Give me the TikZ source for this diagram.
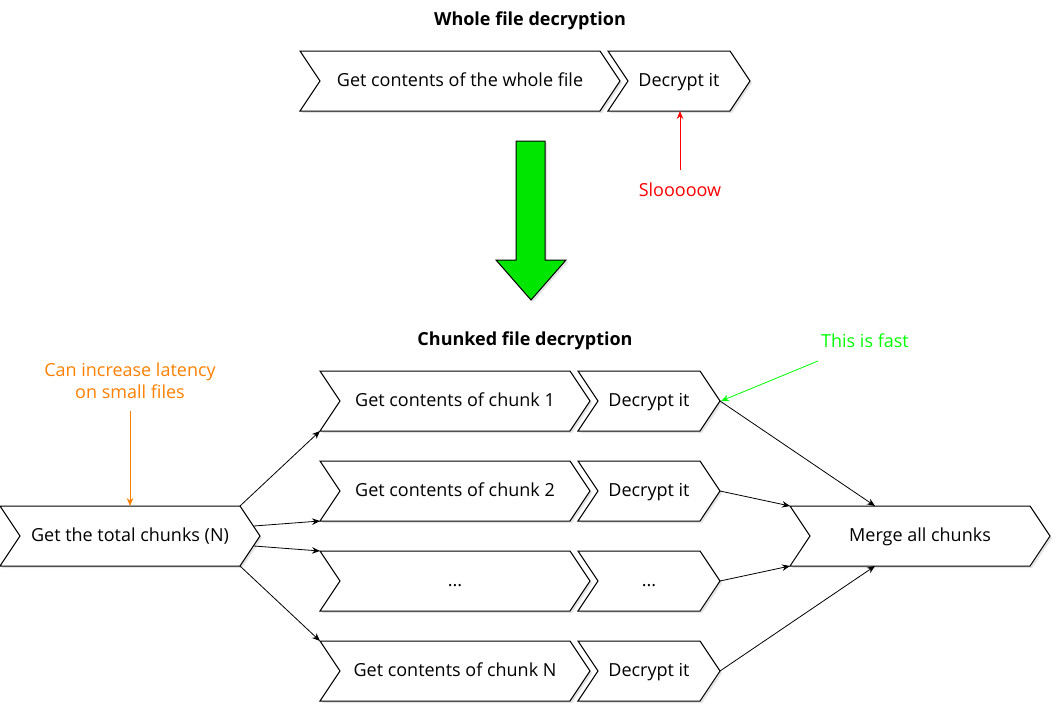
\documentclass[tikz,border=0pt]{standalone}
\usepackage{fontspec}
\setmainfont{Open Sans}
\usetikzlibrary{shapes.symbols,shadows,arrows.meta,calc}

\definecolor{slowred}{RGB}{255,0,0}
\definecolor{noteorange}{RGB}{255,128,0}
\definecolor{fastgreen}{RGB}{0,255,0}
\definecolor{bigarrowgreen}{RGB}{0,230,0}

\begin{document}
\begin{tikzpicture}
[x=1pt, y=-1pt,
 every node/.style={inner sep=0pt, font=\fontsize{18}{22}\selectfont},
 chev/.style={signal, signal from=west, signal to=east, signal pointer angle=112.62, draw=black, fill=white, line width=1pt, minimum height=60pt, text height=12pt, text depth=2pt, drop shadow={opacity=0.22, shadow xshift=2pt, shadow yshift=-2pt}},
 conn/.style={line width=0.8pt, -{Stealth[length=8pt,width=6.5pt]}},
 title/.style={font=\fontsize{18}{22}\selectfont\bfseries}]
\useasboundingbox (0,0) rectangle (1062,723);

\node (t1) [title] at (530, 21) {Whole file decryption};
\node (whole) [chev, minimum width=320pt] at (460, 81) {Get contents of the whole file};
\node (dec) [chev, minimum width=142pt] at (679, 81) {Decrypt it};
\node (slow) [text=slowred] at (680, 190) {Slooooow};
\coordinate (slowtail) at (680, 170);
\draw [line width=0.8pt, color=slowred, -{Stealth[length=8pt,width=6.5pt]}] (slowtail) to ($(dec.center)+(1,30)$);

% big green arrow
\draw [line width=1pt, fill=bigarrowgreen, drop shadow={opacity=0.22, shadow xshift=2pt, shadow yshift=-2pt}] (516,141) -- (545,141) -- (545,260) -- (566,260) -- (531,300) -- (496,260) -- (516,260) -- cycle;

\node (t2) [title] at (525, 341) {Chunked file decryption};
\node (total) [chev, minimum width=260pt] at (130, 536) {Get the total chunks (N)};
\node (c1) [chev, minimum width=270pt] at (455, 401) {Get contents of chunk 1};
\node (c2) [chev, minimum width=270pt] at (455, 491) {Get contents of chunk 2};
\node (c3) [chev, minimum width=270pt] at (455, 581) {...};
\node (c4) [chev, minimum width=270pt] at (455, 671) {Get contents of chunk N};
\node (d1) [chev, minimum width=142pt] at (649, 401) {Decrypt it};
\node (d2) [chev, minimum width=142pt] at (649, 491) {Decrypt it};
\node (d3) [chev, minimum width=142pt] at (649, 581) {...};
\node (d4) [chev, minimum width=142pt] at (649, 671) {Decrypt it};
\node (merge) [chev, minimum width=260pt] at (920, 536) {Merge all chunks};

\node (latency) [text=noteorange, align=center] at (130, 381) {Can increase latency\\on small files};
\coordinate (latencytail) at (130, 411);
\draw [line width=0.8pt, color=noteorange, -{Stealth[length=8pt,width=6.5pt]}] (latencytail) to ($(total.center)+(0,-30)$);

\node (fast) [text=fastgreen] at (865, 341) {This is fast};
\coordinate (fasttail) at (818, 361);
\draw [line width=0.8pt, color=fastgreen, -{Stealth[length=8pt,width=6.5pt]}] (fasttail) to ($(d1.center)+(72,0)$);

\draw [conn] ($(total.center)+(110,-30)$) to ($(c1.center)+(-135,30)$);
\draw [conn] ($(total.center)+(124,-10)$) to ($(c2.center)+(-135,30)$);
\draw [conn] ($(total.center)+(124,10)$) to ($(c3.center)+(-135,-30)$);
\draw [conn] ($(total.center)+(110,30)$) to ($(c4.center)+(-135,-30)$);
\draw [conn] ($(d1.center)+(71,0)$) to ($(merge.center)+(-45,-30)$);
\draw [conn] ($(d2.center)+(71,0)$) to ($(merge.center)+(-130,-30)$);
\draw [conn] ($(d3.center)+(71,0)$) to ($(merge.center)+(-130,30)$);
\draw [conn] ($(d4.center)+(71,0)$) to ($(merge.center)+(-45,30)$);
\end{tikzpicture}
\end{document}
